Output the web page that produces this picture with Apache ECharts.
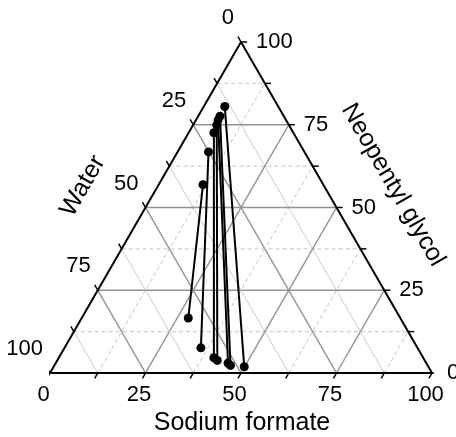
<!DOCTYPE html>
<html>
<head>
<meta charset="utf-8">
<script src="https://cdn.jsdelivr.net/npm/echarts@6/dist/echarts.min.js"></script>
<style>
  html, body { margin: 0; padding: 0; background: #fff; }
  #chart { width: 456px; height: 437px; }
</style>
</head>
<body>
<div id="chart"></div>
<script>
// tie lines, mass % (water = 100 - sodium formate - neopentyl glycol)
var topSodium = [5.5, 5.7, 5.8, 6.2, 6.6, 8.1, 11.6];
var topGlycol = [80.5, 77.6, 76.4, 74.9, 72.6, 66.8, 56.9];
var botSodium = [49.9, 46.1, 45.1, 41.9, 40.6, 35.7, 27.9];
var botGlycol = [1.9, 2.3, 3.0, 3.8, 4.6, 7.6, 16.6];

var tickLabels = [0, 25, 50, 75, 100];
var tickSteps = [0, 12.5, 25, 37.5, 50, 62.5, 75, 87.5, 100];

var FONT = '"Liberation Sans", Arial, sans-serif';
var R3 = Math.sqrt(3) / 2;
// ternary (sodium, glycol) -> cartesian
function pt(s, g) { return [s + g / 2, g * R3]; }

var series = [];
function seg(a, b, style, z) {
  series.push({
    type: 'line', data: [a, b], symbol: 'none', clip: false, silent: true,
    lineStyle: style, z: z, animation: false
  });
}

var major = { color: '#939393', width: 1.5 };
var minorDash = { color: '#c4c4c4', width: 1, type: [4, 3] };
var minorSolid = { color: '#cccccc', width: 1 };

// grid
tickSteps.forEach(function (v) {
  if (v === 0 || v === 100) return;
  var isMajor = v % 25 === 0;
  seg(pt(0, v), pt(100 - v, v), isMajor ? major : minorDash, 1);      // glycol const
  seg(pt(v, 0), pt(v, 100 - v), isMajor ? major : minorDash, 1);      // sodium const
  seg(pt(100 - v, 0), pt(0, 100 - v), isMajor ? major : minorSolid, 1); // water const
});

// frame
series.push({
  type: 'line', data: [pt(0, 0), pt(100, 0), pt(0, 100), pt(0, 0)],
  symbol: 'none', clip: false, silent: true, animation: false,
  lineStyle: { color: '#000', width: 2 }, z: 3
});

// ticks
var t = 1.6;
var tickStyle = { color: '#000', width: 1.5 };
tickSteps.forEach(function (v) {
  seg(pt(v, 0), pt(v, -t), tickStyle, 3);
  seg(pt(100 - v, v), pt(100 - v + t, v), tickStyle, 3);
  seg(pt(0, 100 - v), pt(-t, 100 - v + t), tickStyle, 3);
});

// tick labels
function labels(points, align, offset) {
  series.push({
    type: 'scatter', symbolSize: 1, silent: true, animation: false, z: 4,
    itemStyle: { color: 'transparent', opacity: 1 },
    data: points,
    label: {
      show: true, position: 'inside', align: align, verticalAlign: 'middle',
      offset: offset, color: '#000', fontSize: 22, fontFamily: FONT,
      textBorderWidth: 0,
      formatter: function (p) { return p.data[2]; }
    }
  });
}
labels(tickLabels.map(function (v) { return pt(v, 0).concat(v); }), 'center', [-6.5, 22]);
labels(tickLabels.map(function (v) { return pt(100 - v, v).concat(v); }), 'left', [15, 0]);
labels(tickLabels.map(function (v) { return pt(0, 100 - v).concat(v); }), 'right', [-7, -24]);

// tie lines
topSodium.forEach(function (s, i) {
  series.push({
    type: 'line', clip: false, animation: false, z: 5,
    data: [pt(s, topGlycol[i]), pt(botSodium[i], botGlycol[i])],
    symbol: 'circle', symbolSize: 9,
    itemStyle: { color: '#000' },
    lineStyle: { color: '#000', width: 2 }
  });
});

var titleStyle = function (text) {
  return { text: text, font: '25px ' + FONT, fill: '#000', align: 'center', verticalAlign: 'middle',
    textAlign: 'center', textVerticalAlign: 'middle' };
};

var chart = echarts.init(document.getElementById('chart'));
chart.setOption({
  backgroundColor: '#fff',
  animation: false,
  grid: { left: 50, top: 42, width: 382, height: 331 },
  xAxis: { type: 'value', min: 0, max: 100, show: false },
  yAxis: { type: 'value', min: 0, max: 100 * R3, show: false },
  graphic: [
    { type: 'text', x: 242, y: 423, style: titleStyle('Sodium formate') },
    { type: 'text', x: 83, y: 186, rotation: Math.PI / 3, style: titleStyle('Water') },
    { type: 'text', x: 393, y: 185, rotation: -Math.PI / 3, style: titleStyle('Neopentyl glycol') }
  ],
  series: series
});
</script>
</body>
</html>
